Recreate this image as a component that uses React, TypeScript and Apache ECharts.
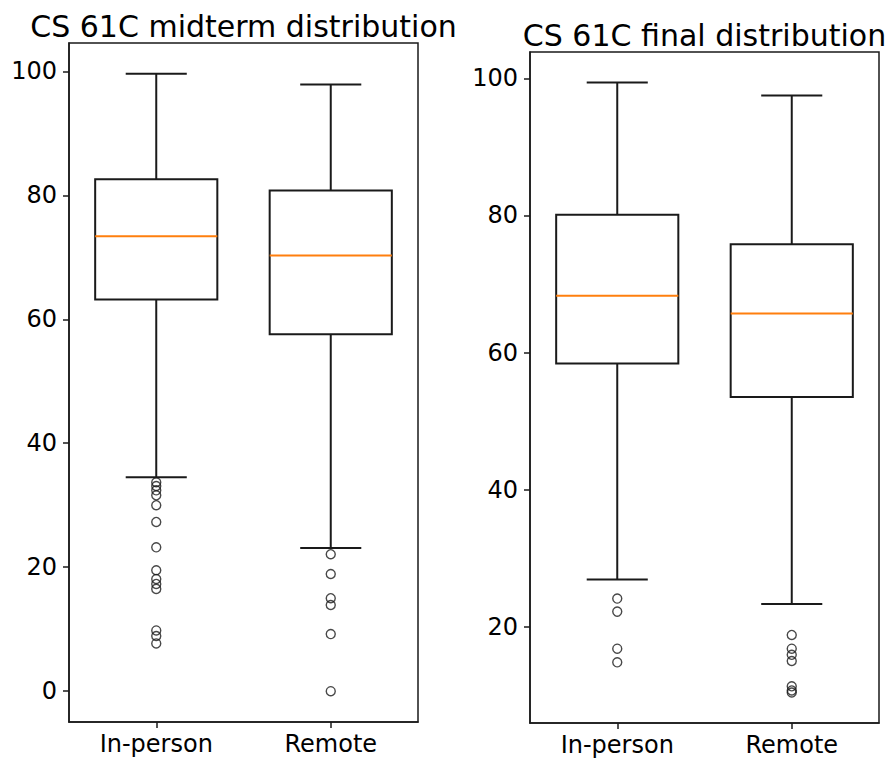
import React, { useEffect, useRef } from 'react';
import * as echarts from 'echarts';

const categories = ['In-person', 'Remote'];

// [lower whisker, Q1, median, Q3, upper whisker]
const midtermInPerson = [34.5, 63.2, 73.4, 82.6, 99.6];
const midtermRemote = [23.1, 57.6, 70.3, 80.8, 97.9];
const midtermInPersonOutliers = [33.7, 33.1, 32.4, 31.6, 30.0, 27.3, 23.2, 19.5, 18.1, 17.3, 16.5, 9.8, 8.9, 7.7];
const midtermRemoteOutliers = [22.1, 18.9, 15.0, 13.9, 9.2, 0];

const finalInPerson = [26.9, 58.4, 68.3, 80.1, 99.4];
const finalRemote = [23.3, 53.5, 65.7, 75.8, 97.5];
const finalInPersonOutliers = [24.1, 22.2, 16.8, 14.8];
const finalRemoteOutliers = [18.8, 16.8, 15.9, 15.0, 11.3, 10.7, 10.4];

const midtermTicks = [0, 20, 40, 60, 80, 100];
const finalTicks = [20, 40, 60, 80, 100];

const midtermTitle = 'CS 61C midterm distribution';
const finalTitle = 'CS 61C final distribution';

const FONT = 'DejaVu Sans';
const INK = '#1a1a1a';

function extent(lists: number[][]): [number, number] {
  const all = lists.flat();
  const lo = Math.min(...all);
  const hi = Math.max(...all);
  const m = (hi - lo) * 0.05;
  return [lo - m, hi + m];
}

const renderBox = (params: any, api: any) => {
  const xi = api.value(0);
  const lo = api.coord([xi, api.value(1)]);
  const q1 = api.coord([xi, api.value(2)]);
  const med = api.coord([xi, api.value(3)]);
  const q3 = api.coord([xi, api.value(4)]);
  const hi = api.coord([xi, api.value(5)]);
  const band = api.size([1, 0])[0];
  const bw = band * 0.7;
  const cx = lo[0];
  const st = { stroke: INK, lineWidth: 2, fill: 'none' };
  return {
    type: 'group',
    children: [
      { type: 'line', shape: { x1: cx, y1: q1[1], x2: cx, y2: lo[1] }, style: st },
      { type: 'line', shape: { x1: cx, y1: q3[1], x2: cx, y2: hi[1] }, style: st },
      { type: 'line', shape: { x1: cx - bw / 4, y1: lo[1], x2: cx + bw / 4, y2: lo[1] }, style: st },
      { type: 'line', shape: { x1: cx - bw / 4, y1: hi[1], x2: cx + bw / 4, y2: hi[1] }, style: st },
      { type: 'rect', shape: { x: cx - bw / 2, y: q3[1], width: bw, height: q1[1] - q3[1] }, style: st },
      { type: 'line', shape: { x1: cx - bw / 2, y1: med[1], x2: cx + bw / 2, y2: med[1] }, style: { stroke: '#ff7f0e', lineWidth: 2 } },
    ],
  };
};

function outlierData(a: number[], b: number[]) {
  return [...a.map((v) => [0, v]), ...b.map((v) => [1, v])];
}

export default function App() {
  const ref = useRef<HTMLDivElement>(null);
  useEffect(() => {
    if (!ref.current) return;
    const chart = echarts.init(ref.current, undefined, { renderer: 'svg' });
    const mExt = extent([midtermInPerson, midtermRemote, midtermInPersonOutliers, midtermRemoteOutliers]);
    const fExt = extent([finalInPerson, finalRemote, finalInPersonOutliers, finalRemoteOutliers]);

    const xAxisBase = (gridIndex: number) => ({
      type: 'category',
      gridIndex,
      data: categories,
      axisLine: { show: true, onZero: false, lineStyle: { color: INK, width: 1.5 } },
      axisTick: { show: true, alignWithLabel: true, length: 6, lineStyle: { color: INK, width: 1.5 } },
      axisLabel: { color: '#000', fontFamily: FONT, fontSize: 24, margin: 10 },
      splitLine: { show: false },
    });
    const yAxisBase = (gridIndex: number, ext: [number, number], ticks: number[]) => ({
      type: 'value',
      gridIndex,
      min: ext[0],
      max: ext[1],
      axisLine: { show: true, onZero: false, lineStyle: { color: INK, width: 1.5 } },
      axisTick: { show: true, length: 6, customValues: ticks, lineStyle: { color: INK, width: 1.5 } },
      axisLabel: { color: '#000', fontFamily: FONT, fontSize: 24, margin: 12, customValues: ticks },
      splitLine: { show: false },
    });

    const outlierStyle = {
      type: 'scatter',
      symbol: 'circle',
      symbolSize: 9,
      itemStyle: { color: 'transparent', borderColor: INK, borderWidth: 1.4 },
      z: 3,
    };

    const titleStyle = { fontFamily: FONT, fontSize: 30, fontWeight: 'normal', color: '#000' };

    chart.setOption({
      animation: false,
      backgroundColor: '#fff',
      title: [
        { text: midtermTitle, left: 243.5, top: 11, padding: 0, textAlign: 'center', textStyle: titleStyle },
        { text: finalTitle, left: 704.5, top: 20, padding: 0, textAlign: 'center', textStyle: titleStyle },
      ],
      grid: [
        { left: 69, top: 43, width: 349, height: 679, show: true, borderColor: INK, borderWidth: 1.5, containLabel: false },
        { left: 530, top: 52, width: 349, height: 671, show: true, borderColor: INK, borderWidth: 1.5, containLabel: false },
      ],
      xAxis: [xAxisBase(0), xAxisBase(1)],
      yAxis: [yAxisBase(0, mExt, midtermTicks), yAxisBase(1, fExt, finalTicks)],
      series: [
        {
          type: 'custom',
          xAxisIndex: 0,
          yAxisIndex: 0,
          renderItem: renderBox,
          encode: { x: 0, y: [1, 2, 3, 4, 5] },
          data: [[0, ...midtermInPerson], [1, ...midtermRemote]],
          z: 2,
        },
        {
          type: 'custom',
          xAxisIndex: 1,
          yAxisIndex: 1,
          renderItem: renderBox,
          encode: { x: 0, y: [1, 2, 3, 4, 5] },
          data: [[0, ...finalInPerson], [1, ...finalRemote]],
          z: 2,
        },
        { ...outlierStyle, xAxisIndex: 0, yAxisIndex: 0, data: outlierData(midtermInPersonOutliers, midtermRemoteOutliers) },
        { ...outlierStyle, xAxisIndex: 1, yAxisIndex: 1, data: outlierData(finalInPersonOutliers, finalRemoteOutliers) },
      ],
    });
    return () => chart.dispose();
  }, []);
  return <div ref={ref} style={{ position: 'absolute', left: 0, top: 0, width: 886, height: 759 }} />;
}
